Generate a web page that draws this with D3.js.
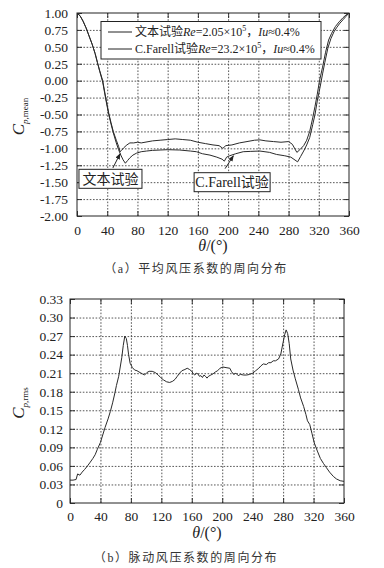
<!DOCTYPE html>
<html>
<head>
<meta charset="utf-8">
<script src="https://cdn.jsdelivr.net/npm/d3@7/dist/d3.min.js"></script>
<style>
body { margin: 0; background: #fff; }
svg { display: block; font-family: "Liberation Serif", "Noto Sans CJK SC", serif; }
</style>
</head>
<body>
<div class="canvas"></div>
<script>
// tick labels
const thetaTicks = [0, 40, 80, 120, 160, 200, 240, 280, 320, 360]
const meanTicks = [1, 0.75, 0.5, 0.25, 0, -0.25, -0.5, -0.75, -1, -1.25, -1.5, -1.75, -2]
const rmsTicks = [0, 0.03, 0.06, 0.09, 0.12, 0.15, 0.18, 0.21, 0.24, 0.27, 0.30, 0.33]

// mean pressure, this test (Re = 2.05e5)
const testTheta = [0, 4, 8, 12, 16, 20, 24, 27, 30, 34, 38, 42, 45, 48, 52, 55, 57, 59, 62, 66, 70, 75, 80, 85, 90,
    100, 110, 120, 130, 140, 150, 160, 170, 180, 188, 193, 197, 205, 215, 225, 235, 242, 250, 260, 270, 280, 285,
    291, 295, 300, 304, 308, 312, 315, 318, 321, 325, 329, 333, 337, 342, 347, 352, 356, 360]
const testCp = [1.00, 0.96, 0.88, 0.78, 0.66, 0.54, 0.40, 0.27, 0.15, 0.00, -0.25, -0.48, -0.62, -0.75, -0.88, -0.97,
    -1.05, -1.03, -0.99, -0.95, -0.92, -0.92, -0.91, -0.92, -0.91, -0.89, -0.88, -0.87, -0.86, -0.87, -0.88, -0.91,
    -0.93, -0.95, -0.96, -1.00, -0.96, -0.95, -0.92, -0.90, -0.88, -0.875, -0.89, -0.90, -0.91, -0.90, -0.94,
    -1.06, -1.02, -0.96, -0.88, -0.75, -0.55, -0.38, -0.20, 0.00, 0.20, 0.42, 0.60, 0.70, 0.80, 0.87, 0.93, 0.97, 1.00]

// mean pressure, C.Farell (Re = 23.2e5)
const farellTheta = [0, 4, 8, 12, 16, 20, 24, 27, 30, 34, 38, 42, 45, 48, 52, 55, 58, 61, 64, 67, 70, 74, 79, 85, 92,
    100, 110, 120, 136, 150, 158, 166, 176, 185, 192, 195, 198, 202, 210, 220, 230, 242, 255, 264, 275, 283, 292,
    296, 300, 304, 308, 312, 315, 318, 322, 325, 328, 332, 336, 340, 344, 348, 352, 356, 360]
const farellCp = [1.00, 0.96, 0.88, 0.78, 0.66, 0.54, 0.40, 0.27, 0.14, -0.02, -0.27, -0.50, -0.64, -0.77, -0.92, -1.02,
    -1.10, -1.17, -1.22, -1.18, -1.14, -1.10, -1.07, -1.05, -1.04, -1.03, -1.025, -1.02, -1.025, -1.04, -1.05, -1.08,
    -1.10, -1.13, -1.16, -1.19, -1.13, -1.11, -1.08, -1.05, -1.045, -1.04, -1.06, -1.09, -1.11, -1.13, -1.20,
    -1.12, -1.04, -0.95, -0.84, -0.65, -0.50, -0.30, -0.08, 0.10, 0.27, 0.48, 0.62, 0.72, 0.79, 0.85, 0.90, 0.95, 1.00]

// fluctuating pressure
const rmsTheta = [0, 4, 8, 10, 13, 16, 19, 23, 26, 30, 33, 36, 40, 43, 46, 50, 53, 56, 59, 61, 64, 66, 68, 70, 72, 74,
    75.5, 77, 79, 82, 85, 88, 92, 95, 98, 101, 104, 108, 112, 116, 119, 123, 127, 131, 135, 138, 141, 144, 147, 151,
    154, 157, 160, 162, 164, 166, 168, 170, 172, 174, 176, 178, 180, 182, 185, 188, 191, 194, 197, 201, 205, 210,
    212, 215, 218, 221, 224, 228, 232, 236, 240, 244, 248, 251, 254, 258, 261, 264, 267, 270, 274, 277, 280, 282,
    284, 286, 288, 290, 293, 296, 300, 303, 307, 310, 312, 315, 318, 321, 325, 329, 333, 337, 341, 346, 350, 355, 360]
const rmsCp = [0.037, 0.037, 0.038, 0.047, 0.045, 0.050, 0.054, 0.060, 0.065, 0.072, 0.078, 0.087, 0.098, 0.110,
    0.122, 0.136, 0.148, 0.162, 0.178, 0.190, 0.205, 0.220, 0.235, 0.255, 0.270, 0.266, 0.255, 0.240, 0.226, 0.219,
    0.215, 0.214, 0.211, 0.209, 0.207, 0.211, 0.213, 0.213, 0.211, 0.207, 0.203, 0.199, 0.196, 0.195, 0.197, 0.200,
    0.205, 0.210, 0.214, 0.216, 0.218, 0.216, 0.213, 0.209, 0.207, 0.210, 0.209, 0.205, 0.206, 0.203, 0.207, 0.205,
    0.202, 0.205, 0.207, 0.209, 0.212, 0.214, 0.218, 0.220, 0.219, 0.218, 0.213, 0.208, 0.210, 0.206, 0.208, 0.207,
    0.207, 0.208, 0.210, 0.214, 0.218, 0.222, 0.225, 0.224, 0.227, 0.227, 0.230, 0.230, 0.233, 0.241, 0.260, 0.272,
    0.280, 0.274, 0.258, 0.233, 0.215, 0.201, 0.184, 0.170, 0.156, 0.143, 0.133, 0.127, 0.112, 0.097, 0.084, 0.072,
    0.064, 0.057, 0.050, 0.043, 0.039, 0.036, 0.035]

const svgWidth = 384
const svgHeight = 568
const ink = '#222'

const svg = d3.select('.canvas')
    .append('svg')
    .attr('width', svgWidth)
    .attr('height', svgHeight)

const defs = svg.append('defs')
defs.append('marker')
    .attr('id', 'arrow')
    .attr('viewBox', '0 0 10 10')
    .attr('refX', 9).attr('refY', 5)
    .attr('markerWidth', 6).attr('markerHeight', 6)
    .attr('orient', 'auto')
    .append('path')
    .attr('d', 'M0,1 L10,5 L0,9 Z')
    .attr('fill', ink)

function drawFrame(box, yTicks, yFormat, yDomain) {
    const g = svg.append('g').attr('transform', `translate(${box.left},${box.top})`)
    const x = d3.scaleLinear().domain([0, 360]).range([0, box.width])
    const y = d3.scaleLinear().domain(yDomain).range([box.height, 0])

    // dotted grid
    g.append('g')
        .attr('class', 'grid')
        .attr('transform', `translate(0,${box.height})`)
        .call(d3.axisBottom(x).tickValues(thetaTicks.slice(1, -1)).tickSize(-box.height).tickFormat(''))
    g.append('g')
        .attr('class', 'grid')
        .call(d3.axisLeft(y).tickValues(yTicks.filter(t => t !== yDomain[0] && t !== yDomain[1])).tickSize(-box.width).tickFormat(''))
    g.selectAll('.grid .domain').remove()
    g.selectAll('.grid line')
        .attr('stroke', '#444')
        .attr('stroke-width', 0.9)
        .attr('stroke-dasharray', '1.6,1.6')

    // short inner ticks on all sides
    const inner = [
        g.append('g').attr('transform', `translate(0,${box.height})`).call(d3.axisBottom(x).tickValues(thetaTicks).tickSize(-5).tickFormat('')),
        g.append('g').call(d3.axisTop(x).tickValues(thetaTicks).tickSize(-5).tickFormat('')),
        g.append('g').call(d3.axisLeft(y).tickValues(yTicks).tickSize(-5).tickFormat('')),
        g.append('g').attr('transform', `translate(${box.width},0)`).call(d3.axisRight(y).tickValues(yTicks).tickSize(-5).tickFormat(''))
    ]
    inner.forEach(a => {
        a.select('.domain').remove()
        a.selectAll('line').attr('stroke', ink).attr('stroke-width', 0.9)
    })

    // labels
    const xAxis = g.append('g')
        .attr('transform', `translate(0,${box.height})`)
        .call(d3.axisBottom(x).tickValues(thetaTicks).tickSize(0).tickPadding(box.xPad).tickFormat(d3.format('d')))
    const yAxis = g.append('g')
        .call(d3.axisLeft(y).tickValues(yTicks).tickSize(0).tickPadding(box.yPad).tickFormat(yFormat))
    ;[xAxis, yAxis].forEach(a => {
        a.select('.domain').remove()
        a.selectAll('text')
            .attr('fill', ink)
            .style('font-family', '"Liberation Serif", serif')
            .style('font-size', '13.5px')
    })

    g.append('rect')
        .attr('width', box.width)
        .attr('height', box.height)
        .attr('fill', 'none')
        .attr('stroke', ink)
        .attr('stroke-width', 1)

    // theta label
    const tl = g.append('text')
        .attr('x', box.width / 2)
        .attr('y', box.height + box.thetaY)
        .attr('text-anchor', 'middle')
        .attr('fill', ink)
        .style('font-size', '16px')
    tl.append('tspan').attr('font-style', 'italic').text('θ')
    tl.append('tspan').text('/(°)')

    // y label, C with subscript
    const yl = svg.append('text')
        .attr('transform', `translate(${box.cx},${box.top + box.height / 2 + 2}) rotate(-90)`)
        .attr('text-anchor', 'middle')
        .attr('fill', ink)
    yl.append('tspan').attr('font-style', 'italic').style('font-size', '17px').text('C')
    yl.append('tspan').attr('font-style', 'italic').style('font-size', '9px').attr('dy', 4).text('p')
    yl.append('tspan').style('font-size', '9px').text(box.sub)

    return { g, x, y }
}

const fmt2 = d => d3.format('.2f')(d).replace('−', '-')

// ---- (a) mean pressure coefficient ----
const panelA = drawFrame(
    { left: 77, top: 13, width: 272, height: 203, xPad: 9, yPad: 9, thetaY: 35, cx: 23.5, sub: ',mean' },
    meanTicks, fmt2, [-2, 1])

const line = (x, y) => d3.line().x(d => x(d[0])).y(d => y(d[1]))

const clipA = defs.append('clipPath').attr('id', 'clipA')
clipA.append('rect').attr('width', 272).attr('height', 203)

panelA.g.append('path')
    .datum(d3.zip(farellTheta, farellCp))
    .attr('clip-path', 'url(#clipA)')
    .attr('d', line(panelA.x, panelA.y))
    .attr('fill', 'none').attr('stroke', '#2a2a2a').attr('stroke-width', 1)
panelA.g.append('path')
    .datum(d3.zip(testTheta, testCp))
    .attr('clip-path', 'url(#clipA)')
    .attr('d', line(panelA.x, panelA.y))
    .attr('fill', 'none').attr('stroke', '#2a2a2a').attr('stroke-width', 1)

// legend
const legend = panelA.g.append('g').attr('transform', 'translate(24,8.5)')
legend.append('rect')
    .attr('width', 220).attr('height', 37.5)
    .attr('fill', '#fff').attr('stroke', ink).attr('stroke-width', 1)
const legendRows = [
    [['文本试验', ''], ['Re', 'i'], ['=2.05×10', ''], ['5', 's'], ['，', ''], ['Iu', 'i'], ['≈0.4%', '']],
    [['C.Farell试验', ''], ['Re', 'i'], ['=23.2×10', ''], ['5', 's'], ['，', ''], ['Iu', 'i'], ['≈0.4%', '']]
]
legendRows.forEach((row, i) => {
    const cy = 10.5 + i * 17
    legend.append('line')
        .attr('x1', 7).attr('x2', 31).attr('y1', cy).attr('y2', cy)
        .attr('stroke', ink).attr('stroke-width', 1)
    const t = legend.append('text')
        .attr('x', 34).attr('y', cy + 4.3)
        .attr('fill', ink)
        .style('font-size', '12px')
    let shifted = false
    row.forEach(([s, k]) => {
        const ts = t.append('tspan').text(s)
        if (k === 'i') ts.attr('font-style', 'italic')
        if (k === 's') { ts.attr('dy', -5).style('font-size', '8px'); shifted = true }
        else if (shifted) { ts.attr('dy', 5); shifted = false }
    })
})

// callouts
function callout(g, label, bx, by, bw, bh, from, to) {
    g.append('line')
        .attr('x1', from[0]).attr('y1', from[1])
        .attr('x2', to[0]).attr('y2', to[1])
        .attr('stroke', ink).attr('stroke-width', 1)
        .attr('marker-end', 'url(#arrow)')
    g.append('rect')
        .attr('x', bx).attr('y', by).attr('width', bw).attr('height', bh)
        .attr('fill', '#fff').attr('stroke', ink).attr('stroke-width', 1)
    g.append('text')
        .attr('x', bx + bw / 2).attr('y', by + bh / 2 + 5)
        .attr('text-anchor', 'middle')
        .attr('fill', ink)
        .style('font-size', '14px')
        .text(label)
}
callout(panelA.g, '文本试验', panelA.x(2.6), panelA.y(-1.31), 63, 19,
    [panelA.x(47.5), panelA.y(-1.29)], [panelA.x(57), panelA.y(-1.08)])
callout(panelA.g, 'C.Farell试验', panelA.x(155), panelA.y(-1.36), 76, 19,
    [panelA.x(196), panelA.y(-1.30)], [panelA.x(207), panelA.y(-1.11)])

svg.append('text')
    .attr('x', 196).attr('y', 273)
    .attr('text-anchor', 'middle')
    .attr('fill', '#333')
    .style('font-size', '12px')
    .style('letter-spacing', '1.6px')
    .text('（a）平均风压系数的周向分布')

// ---- (b) fluctuating pressure coefficient ----
const panelB = drawFrame(
    { left: 70, top: 299, width: 274, height: 204, xPad: 8, yPad: 7, thetaY: 35, cx: 23.5, sub: ',rms' },
    rmsTicks, d => d === 0 ? '0' : d3.format('.2f')(d), [0, 0.33])

panelB.g.append('path')
    .datum(d3.zip(rmsTheta, rmsCp))
    .attr('d', line(panelB.x, panelB.y))
    .attr('fill', 'none').attr('stroke', '#2a2a2a').attr('stroke-width', 1)

svg.append('text')
    .attr('x', 186).attr('y', 562)
    .attr('text-anchor', 'middle')
    .attr('fill', '#333')
    .style('font-size', '12px')
    .style('letter-spacing', '1.6px')
    .text('（b）脉动风压系数的周向分布')
</script>
</body>
</html>
